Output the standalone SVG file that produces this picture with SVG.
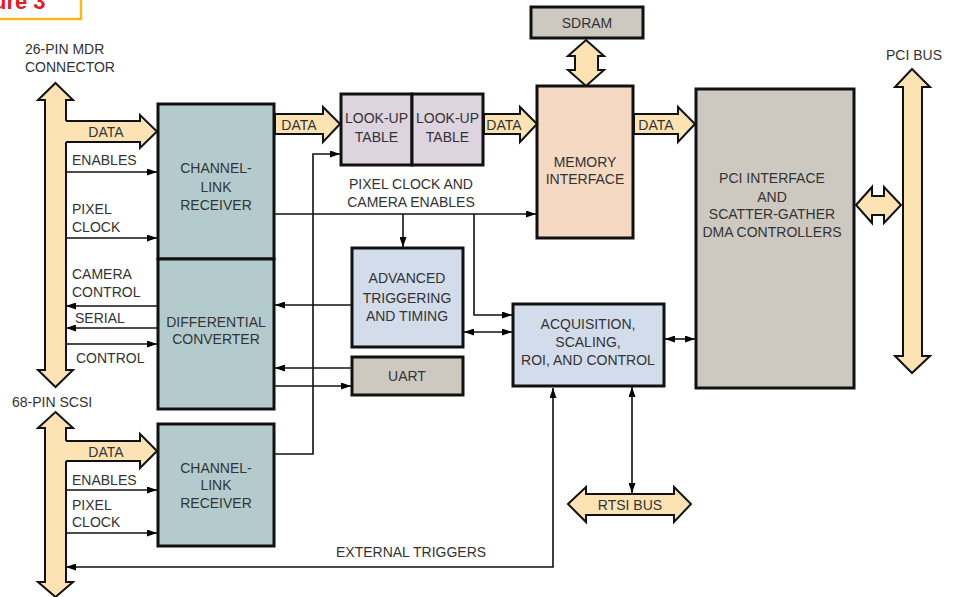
<svg xmlns="http://www.w3.org/2000/svg" width="954" height="597" viewBox="0 0 954 597">
<defs>
<marker id="ah" viewBox="0 0 10 7" refX="10" refY="3.5" markerWidth="10" markerHeight="7" markerUnits="userSpaceOnUse" orient="auto-start-reverse">
<path d="M0,0 L10,3.5 L0,7 z" fill="#000"/>
</marker>
<style>
.t{font-family:"Liberation Sans",Arial,sans-serif;font-size:14px;fill:#333;}
.m{text-anchor:middle;}
.box{stroke:#111;stroke-width:3;}
.teal{fill:#B4CBCE;}
.lav{fill:#DDD4E0;}
.blue{fill:#D2DCEA;}
.gray{fill:#CDC9C1;}
.peach{fill:#F6D9C2;}
.bus{fill:#FDE3B4;stroke:#111;stroke-width:2;stroke-linejoin:miter;}
.busf{fill:#FDE3B4;stroke:none;}
.buss{fill:none;stroke:#111;stroke-width:2;}
.ln{fill:none;stroke:#111;stroke-width:1.6;}
.a{marker-end:url(#ah);}
.aa{marker-start:url(#ah);marker-end:url(#ah);}
</style>
</defs>
<rect width="954" height="597" fill="#fff"/>

<g id="fig-label">
<rect x="-6" y="-6" width="87" height="25" fill="#fff" stroke="#F6B91C" stroke-width="2.5"/>
<text x="-7" y="9" font-family="Liberation Sans,Arial,sans-serif" font-weight="bold" font-size="22" fill="#E21B23">ure 3</text>
</g>

<g id="connector-mdr">
<polygon class="bus" points="55.5,83 73,100 66,100 66,370 73,370 55.5,387 38,370 45,370 45,100 38,100"/>
<text class="t" x="25" y="54">26-PIN MDR</text>
<text class="t" x="25" y="72">CONNECTOR</text>
</g>

<g id="connector-scsi">
<polygon class="bus" points="55.5,412 73,428 66,428 66,582 73,582 55.5,597 38,582 45,582 45,428 38,428"/>
<text class="t" x="12" y="407">68-PIN SCSI</text>
</g>

<g id="pci-bus">
<polygon class="bus" points="912,69 930,87 922,87 922,356 930,356 912,373 895,356 903,356 903,87 895,87"/>
<text class="t m" x="914" y="60">PCI BUS</text>
</g>

<g id="clr1">
<rect class="box teal" x="158" y="104" width="116" height="155"/>
<text class="t m" x="216" y="173">CHANNEL-</text>
<text class="t m" x="216" y="192">LINK</text>
<text class="t m" x="216" y="210">RECEIVER</text>
</g>

<g id="diff-conv">
<rect class="box teal" x="158" y="259" width="116" height="150"/>
<text class="t m" x="216" y="327">DIFFERENTIAL</text>
<text class="t m" x="216" y="344">CONVERTER</text>
</g>

<g id="clr2">
<rect class="box teal" x="158" y="424" width="116" height="122"/>
<text class="t m" x="216" y="473">CHANNEL-</text>
<text class="t m" x="216" y="490">LINK</text>
<text class="t m" x="216" y="508">RECEIVER</text>
</g>

<g id="lut1">
<rect class="box lav" x="341" y="94" width="71" height="71"/>
<text class="t m" x="376.5" y="123">LOOK-UP</text>
<text class="t m" x="376.5" y="142">TABLE</text>
</g>
<g id="lut2">
<rect class="box lav" x="412" y="94" width="71" height="71"/>
<text class="t m" x="447.5" y="123">LOOK-UP</text>
<text class="t m" x="447.5" y="142">TABLE</text>
</g>

<g id="sdram">
<rect class="box gray" x="531" y="7" width="112" height="31"/>
<text class="t m" x="587" y="28">SDRAM</text>
</g>

<g id="mem-if">
<rect class="box peach" x="537" y="86" width="96" height="152"/>
<text class="t m" x="585" y="167">MEMORY</text>
<text class="t m" x="585" y="184">INTERFACE</text>
</g>

<g id="pci-if">
<rect class="box gray" x="696" y="89" width="158" height="299"/>
<text class="t m" x="772" y="183">PCI INTERFACE</text>
<text class="t m" x="772" y="202">AND</text>
<text class="t m" x="772" y="219">SCATTER-GATHER</text>
<text class="t m" x="772" y="237">DMA CONTROLLERS</text>
</g>

<g id="adv-trig">
<rect class="box blue" x="352" y="248" width="111" height="99"/>
<text class="t m" x="407" y="283">ADVANCED</text>
<text class="t m" x="407" y="303">TRIGGERING</text>
<text class="t m" x="407" y="321">AND TIMING</text>
</g>

<g id="uart">
<rect class="box gray" x="352" y="357" width="111" height="38"/>
<text class="t m" x="407" y="381">UART</text>
</g>

<g id="acq">
<rect class="box blue" x="513" y="304" width="151" height="82"/>
<text class="t m" x="588" y="329">ACQUISITION,</text>
<text class="t m" x="588" y="347">SCALING,</text>
<text class="t m" x="588" y="365">ROI, AND CONTROL</text>
</g>

<g id="rtsi-bus">
<polygon class="bus" points="568,504 586,487 586,494 674,494 674,487 691,504 674,522 674,515 586,515 586,522"/>
<text class="t m" x="630" y="510">RTSI BUS</text>
</g>

<g id="connectors">
<!-- wide data arrows -->
<polygon class="busf" points="63,121 140,121 140,115 157,131.5 140,148 140,142 63,142"/>
<polyline class="buss" points="66,121 140,121 140,115 157,131.5 140,148 140,142 66,142"/>
<text class="t m" x="106" y="137">DATA</text>

<polygon class="busf" points="63,441 140,441 140,434 157,451 140,468 140,461 63,461"/>
<polyline class="buss" points="66,441 140,441 140,434 157,451 140,468 140,461 66,461"/>
<text class="t m" x="106" y="457">DATA</text>

<polygon class="bus" points="275,114 323,114 323,107 340,124 323,142 323,134 275,134"/>
<text class="t m" x="299" y="130">DATA</text>

<polygon class="bus" points="484,114 520,114 520,107 537,124 520,142 520,134 484,134"/>
<text class="t m" x="504" y="130">DATA</text>

<polygon class="bus" points="634,114 678,114 678,107 695,124 678,142 678,134 634,134"/>
<text class="t m" x="656" y="130">DATA</text>

<polygon class="bus" points="586,40 604,56 598,56 598,70 604,70 586,86 568,70 575,70 575,56 568,56"/>
<polygon class="bus" points="856,205 872,187 872,196 884,196 884,187 901,205 884,223 884,215 872,215 872,223"/>

<!-- thin signal lines -->
<line class="ln a" x1="66" y1="172" x2="157" y2="172"/>
<text class="t" x="72" y="165">ENABLES</text>
<line class="ln a" x1="66" y1="238" x2="157" y2="238"/>
<text class="t" x="72" y="214">PIXEL</text>
<text class="t" x="72" y="232">CLOCK</text>
<line class="ln a" x1="157" y1="306" x2="66" y2="306"/>
<text class="t" x="72" y="279">CAMERA</text>
<text class="t" x="72" y="297">CONTROL</text>
<line class="ln a" x1="157" y1="328" x2="66" y2="328"/>
<text class="t" x="75" y="323">SERIAL</text>
<line class="ln a" x1="66" y1="344" x2="157" y2="344"/>
<text class="t" x="76" y="363">CONTROL</text>

<line class="ln a" x1="66" y1="490" x2="157" y2="490"/>
<text class="t" x="72" y="485">ENABLES</text>
<line class="ln a" x1="66" y1="533" x2="157" y2="533"/>
<text class="t" x="72" y="510">PIXEL</text>
<text class="t" x="72" y="527">CLOCK</text>

<path class="ln aa" d="M553,388 L553,567 L66,567"/>
<text class="t" x="336" y="557">EXTERNAL TRIGGERS</text>

<path class="ln a" d="M274,454 L313,454 L313,154 L340,154"/>
<path class="ln a" d="M274,214 L536,214"/>
<text class="t m" x="411" y="189">PIXEL CLOCK AND</text>
<text class="t m" x="411" y="207">CAMERA ENABLES</text>
<path class="ln a" d="M403,214 L403,247"/>
<path class="ln a" d="M474,214 L474,315 L512,315"/>
<path class="ln a" d="M352,305 L275,305"/>
<path class="ln aa" d="M464,332 L512,332"/>
<path class="ln a" d="M352,368 L275,368"/>
<path class="ln a" d="M274,386 L351,386"/>
<path class="ln aa" d="M665,339 L695,339"/>
<path class="ln aa" d="M632,387 L632,493"/>
</g>
</svg>
